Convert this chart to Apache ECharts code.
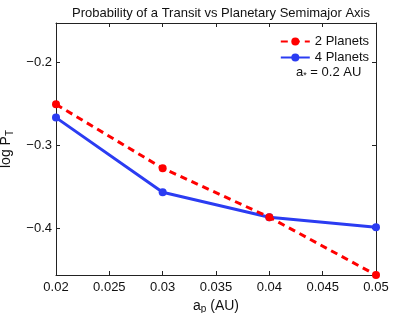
<!DOCTYPE html>
<html><head><meta charset="utf-8">
<script src="https://cdn.jsdelivr.net/npm/echarts@6/dist/echarts.min.js"></script>
<style>html,body{margin:0;padding:0;background:#fff}#c{width:415px;height:313px}</style>
</head><body><div id="c"></div>
<script>
const titleText = 'Probability of a Transit vs Planetary Semimajor Axis';
const semimajorAxes = [0.02, 0.03, 0.04, 0.05];
const planets2 = [-0.251, -0.328, -0.387, -0.4566];
const planets4 = [-0.267, -0.357, -0.387, -0.399];
const seriesNames = ['2 Planets', '4 Planets'];
const xTicks = [0.02, 0.025, 0.03, 0.035, 0.04, 0.045, 0.05];
const yTicks = [-0.4, -0.3, -0.2];

const font = 'Liberation Sans, Arial, sans-serif';
const chart = echarts.init(document.getElementById('c'));
const pairs = arr => semimajorAxes.map((x, i) => [x, arr[i]]);
const fmtY = v => (v < 0 ? '\u2212' : '') + Math.abs(v).toFixed(1);
const Y_MIN = -0.4566, Y_MAX = -0.153;

chart.setOption({
  animation: false,
  title: {
    text: titleText, left: 216, textAlign: 'center', top: 2,
    textStyle: { fontFamily: font, fontSize: 13, fontWeight: 'normal', color: '#111' }
  },
  legend: {
    right: 41, top: 30, orient: 'vertical', itemWidth: 29, itemHeight: 10, itemGap: 3,
    textStyle: { fontFamily: font, fontSize: 13, color: '#111' },
    data: seriesNames
  },
  grid: { left: 56, right: 39, top: 23, bottom: 38, outerBoundsMode: 'none', containLabel: false },
  xAxis: [{
    type: 'value', min: 0.02, max: 0.05,
    axisLine: { lineStyle: { color: '#222', width: 1 } },
    axisTick: { inside: true, length: 4, customValues: xTicks, lineStyle: { color: '#222' } },
    axisLabel: { customValues: xTicks, fontFamily: font, fontSize: 13, color: '#111', margin: 6,
      formatter: v => String(+v.toFixed(3)) },
    splitLine: { show: false },
    name: '{a|a}{s|p}{a| (AU)}', nameLocation: 'middle', nameGap: 15,
    nameTextStyle: { rich: { a: { fontFamily: font, fontSize: 14, color: '#111' },
      s: { fontFamily: font, fontSize: 10, color: '#111', verticalAlign: 'bottom', padding: [7, 0, 0, 0] } } }
  }, {
    type: 'value', min: 0.02, max: 0.05, position: 'top',
    axisLine: { lineStyle: { color: '#222', width: 1 } },
    axisTick: { inside: true, length: 4, customValues: xTicks, lineStyle: { color: '#222' } },
    axisLabel: { show: false }, splitLine: { show: false }
  }],
  yAxis: [{
    type: 'value', min: Y_MIN, max: Y_MAX,
    axisLine: { show: true, lineStyle: { color: '#222', width: 1 } },
    axisTick: { show: true, inside: true, length: 4, customValues: yTicks, lineStyle: { color: '#222' } },
    axisLabel: { customValues: yTicks, fontFamily: font, fontSize: 13, color: '#111', margin: 4, formatter: fmtY },
    splitLine: { show: false },
    name: '{a|log P}{s|T}', nameLocation: 'middle', nameGap: 30, nameRotate: 90,
    nameTextStyle: { rich: { a: { fontFamily: font, fontSize: 14, color: '#111' },
      s: { fontFamily: font, fontSize: 10, color: '#111', verticalAlign: 'bottom', padding: [9, 0, 0, 0] } } }
  }, {
    type: 'value', min: Y_MIN, max: Y_MAX, position: 'right',
    axisLine: { show: true, lineStyle: { color: '#222', width: 1 } },
    axisTick: { show: true, inside: true, length: 4, customValues: yTicks, lineStyle: { color: '#222' } },
    axisLabel: { show: false }, splitLine: { show: false }
  }],
  graphic: [{
    type: 'text', left: 296, top: 66,
    style: { text: '{a|a}{s|*}{a| = 0.2 AU}', fontFamily: font,
      rich: { a: { fontFamily: font, fontSize: 13, fill: '#111' },
        s: { fontFamily: font, fontSize: 9, fill: '#111', verticalAlign: 'bottom', padding: [6, 0, 0, 0] } } }
  }],
  series: [{
    name: seriesNames[0], type: 'line', data: pairs(planets2),
    symbol: 'circle', symbolSize: 8,
    lineStyle: { color: '#ff0000', width: 3, type: [7, 5] },
    itemStyle: { color: '#ff0000' }, z: 3
  }, {
    name: seriesNames[1], type: 'line', data: pairs(planets4),
    symbol: 'circle', symbolSize: 8,
    lineStyle: { color: '#2b3cf2', width: 3 },
    itemStyle: { color: '#2b3cf2' }, z: 2
  }]
});
</script></body></html>
